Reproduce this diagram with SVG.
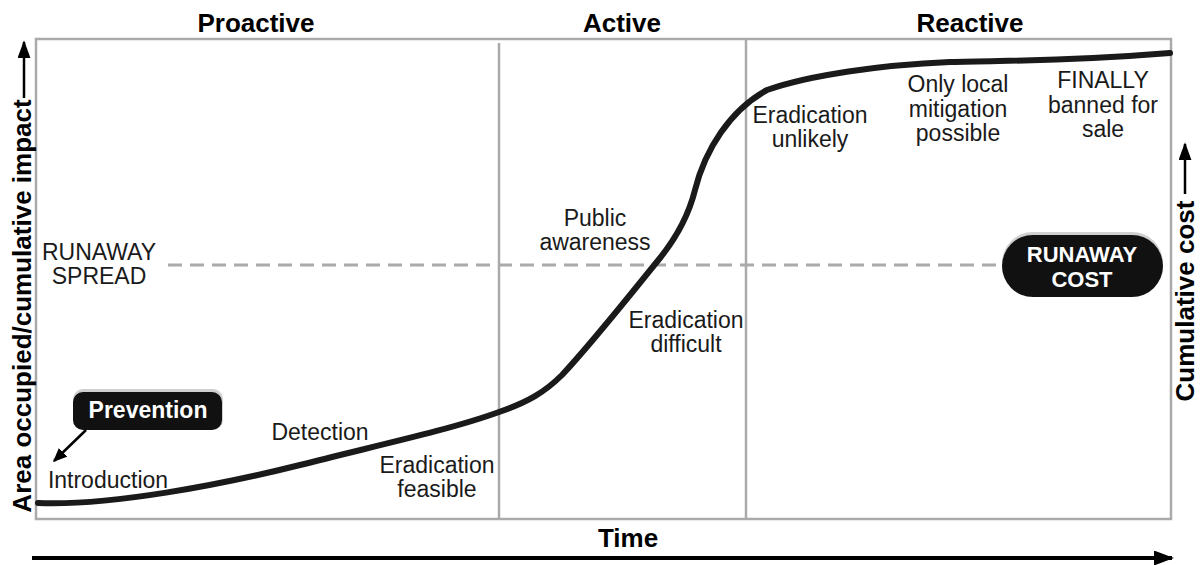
<svg xmlns="http://www.w3.org/2000/svg" width="1201" height="565" viewBox="0 0 1201 565">
<style>
.lbl{font-family:"Liberation Sans",Arial,sans-serif;font-size:23px;fill:#1a1a1a;text-anchor:middle}
.ttl{font-family:"Liberation Sans",Arial,sans-serif;font-size:26px;font-weight:bold;fill:#000;text-anchor:middle}
.wht{font-family:"Liberation Sans",Arial,sans-serif;font-weight:bold;fill:#fff;text-anchor:middle}
.grid{stroke:#aaa;stroke-width:2.5;fill:none}
.ax{stroke:#000;fill:none}
</style>
<defs>
<marker id="ah" viewBox="0 0 10 10" preserveAspectRatio="none" refX="9" refY="5" markerWidth="14" markerHeight="12" markerUnits="userSpaceOnUse" orient="auto"><path d="M0,0 L10,5 L0,10 z" fill="#000"/></marker>
<marker id="ahb" viewBox="0 0 10 10" preserveAspectRatio="none" refX="9" refY="5" markerWidth="18" markerHeight="13" markerUnits="userSpaceOnUse" orient="auto"><path d="M0,0 L10,5 L0,10 z" fill="#000"/></marker>
<marker id="aht" viewBox="0 0 10 10" preserveAspectRatio="none" refX="9" refY="5" markerWidth="20" markerHeight="15" markerUnits="userSpaceOnUse" orient="auto"><path d="M0,0 L10,5 L0,10 z" fill="#000"/></marker>
</defs>
<rect width="1201" height="565" fill="#fff"/>
<g id="frame">
<rect x="36" y="39" width="1135" height="480" class="grid"/>
<line x1="499" y1="43" x2="499" y2="519" class="grid"/>
<line x1="746" y1="39" x2="746" y2="519" class="grid"/>
<line x1="168" y1="265" x2="1000" y2="265" stroke="#aaa" stroke-width="3" stroke-dasharray="14 8"/>
</g>
<g id="titles">
<text x="256" y="32" class="ttl">Proactive</text>
<text x="622" y="32" class="ttl">Active</text>
<text x="970" y="32" class="ttl">Reactive</text>
<text x="628" y="547" class="ttl">Time</text>
</g>
<g id="axes">
<text transform="translate(31,306) rotate(-90)" class="ttl">Area occupied/cumulative impact</text>
<text transform="translate(1194,301) rotate(-90)" class="ttl">Cumulative cost</text>
</g>
<g id="connectors">
<line x1="32" y1="558" x2="1172" y2="558" class="ax" stroke-width="4" marker-end="url(#aht)"/>
<line x1="24" y1="98" x2="24" y2="42" class="ax" stroke-width="2.5" marker-end="url(#ahb)"/>
<line x1="1185" y1="194" x2="1185" y2="144" class="ax" stroke-width="2.5" marker-end="url(#ahb)"/>
<line x1="86" y1="430" x2="54" y2="461" class="ax" stroke-width="2.5" marker-end="url(#ah)"/>
<path id="curve" d="M38,503 C110,506 220,485 300,465 C370,447 450,430 499,412 C528,402 545,392 562,375 C592,343 630,295 660,258 C680,233 690,210 695,190 C705,150 730,110 767,90 C810,75 880,65 950,62 C1010,60 1060,62 1170,53" fill="none" stroke="#1a1a1a" stroke-width="6" stroke-linecap="round"/>
</g>
<g id="runaway-spread">
<text x="99" y="260" class="lbl">RUNAWAY</text>
<text x="99" y="284" class="lbl">SPREAD</text>
</g>
<g id="prevention">
<rect x="73" y="389" width="150" height="41" rx="10" fill="#d0d0d0"/>
<rect x="73" y="392" width="149" height="38" rx="10" fill="#111"/>
<text x="148" y="418" class="wht" font-size="23">Prevention</text>
</g>
<g id="runaway-cost">
<rect x="1002" y="232" width="161" height="64" rx="31" fill="#d0d0d0"/>
<rect x="1002" y="235" width="161" height="62" rx="31" fill="#111"/>
<text x="1082" y="262" class="wht" font-size="22">RUNAWAY</text>
<text x="1082" y="287" class="wht" font-size="22">COST</text>
</g>
<g id="labels">
<text x="108" y="488" class="lbl">Introduction</text>
<text x="320" y="440" class="lbl">Detection</text>
<text x="437" y="473" class="lbl">Eradication</text>
<text x="437" y="497" class="lbl">feasible</text>
<text x="595" y="226" class="lbl">Public</text>
<text x="595" y="250" class="lbl">awareness</text>
<text x="686" y="328" class="lbl">Eradication</text>
<text x="686" y="352" class="lbl">difficult</text>
<text x="810" y="123" class="lbl">Eradication</text>
<text x="810" y="147" class="lbl">unlikely</text>
<text x="958" y="92" class="lbl">Only local</text>
<text x="958" y="117" class="lbl">mitigation</text>
<text x="958" y="141" class="lbl">possible</text>
<text x="1103" y="88" class="lbl">FINALLY</text>
<text x="1103" y="113" class="lbl">banned for</text>
<text x="1103" y="137" class="lbl">sale</text>
</g>
</svg>
